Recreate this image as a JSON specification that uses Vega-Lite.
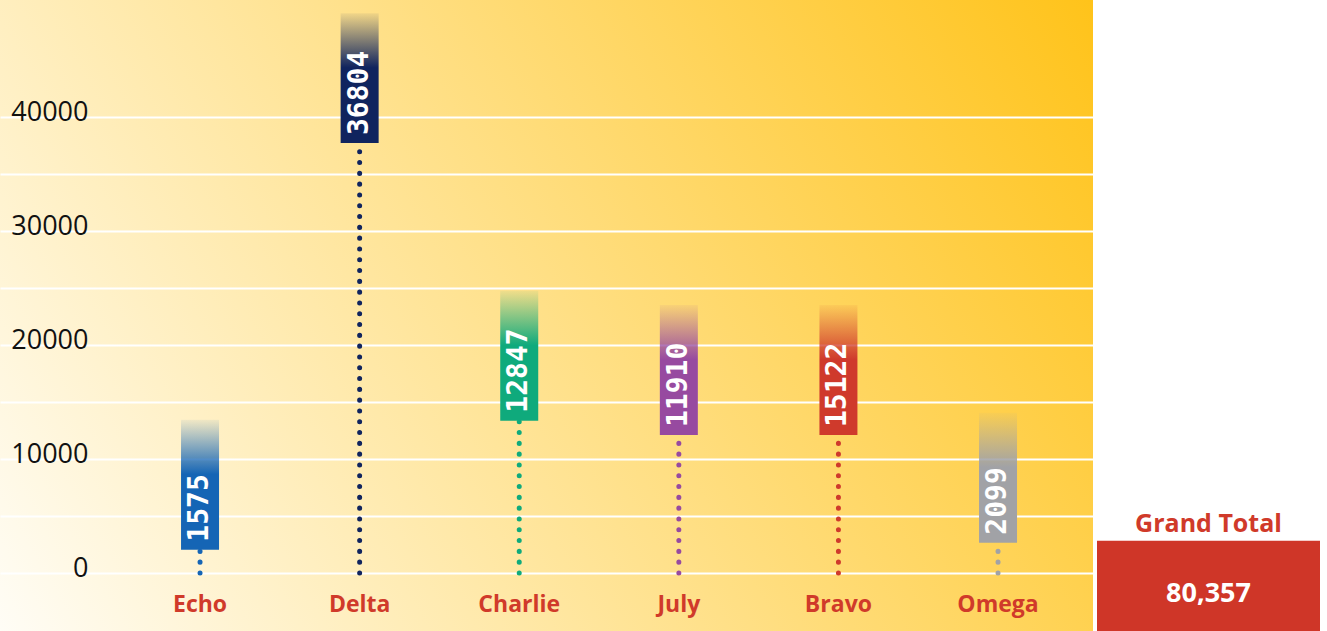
{
  "$schema": "https://vega.github.io/schema/vega-lite/v6.json",
  "padding": 0,
  "spacing": 4,
  "background": "white",
  "config": {"view": {"stroke": null}, "font": "Open Sans", "aria": false},
  "datasets": {
    "items": [
      {"name": "Echo", "value": 1575, "base": 0, "level": 2044, "top": 13450},
      {"name": "Delta", "value": 36804, "base": 0, "level": 37720, "top": 49100},
      {"name": "Charlie", "value": 12847, "base": 0, "level": 13360, "top": 24760},
      {"name": "July", "value": 11910, "base": 0, "level": 12105, "top": 23510},
      {"name": "Bravo", "value": 15122, "base": 0, "level": 12105, "top": 23510},
      {"name": "Omega", "value": 2099, "base": 0, "level": 2660, "top": 14060}
    ],
    "total": [{"label": "Grand Total", "total": 80357}]
  },
  "hconcat": [
    {
      "width": 1093,
      "height": 631,
      "data": {"name": "items"},
      "view": {
        "stroke": null,
        "fill": {
          "gradient": "linear",
          "x1": 0, "y1": 1, "x2": 1.2, "y2": 0.6,
          "stops": [
            {"offset": 0, "color": "#FFFDF6"},
            {"offset": 1, "color": "#FFC31A"}
          ]
        }
      },
      "encoding": {
        "x": {
          "field": "name",
          "type": "nominal",
          "sort": null,
          "scale": {"type": "band", "paddingInner": 0, "paddingOuter": 0.4242, "align": 0.888},
          "axis": {
            "orient": "bottom",
            "offset": -20,
            "labelPadding": 0,
            "labelBaseline": "alphabetic",
            "labelFont": "Open Sans",
            "labelFontWeight": "bold",
            "labelFontSize": 23,
            "labelColor": "#D03A2A",
            "labelAngle": 0,
            "domain": false,
            "ticks": false,
            "title": null
          }
        }
      },
      "layer": [
        {
          "mark": {"type": "rule", "strokeDash": [0.1, 10.7], "strokeCap": "round", "strokeWidth": 5},
          "encoding": {
            "y": {
              "field": "base",
              "type": "quantitative",
              "scale": {"domain": [-5088, 50263], "nice": false, "zero": false},
              "axis": {
                "orient": "left",
                "offset": -93,
                "values": [0, 5000, 10000, 15000, 20000, 25000, 30000, 35000, 40000],
                "format": "d",
                "labelExpr": "datum.value % 10000 === 0 ? datum.label : ''",
                "labelOverlap": false,
                "grid": true,
                "gridColor": "#FFFFFF",
                "gridWidth": 1.8,
                "gridOpacity": 1,
                "domain": false,
                "ticks": false,
                "labelPadding": 5,
                "labelFont": "Open Sans",
                "labelFontSize": 27,
                "labelColor": "#111111",
                "labelBaseline": "middle",
                "labelOffset": -4,
                "title": null
              }
            },
            "y2": {"field": "level"},
            "color": {
              "field": "name",
              "type": "nominal",
              "scale": {
                "domain": ["Echo", "Delta", "Charlie", "July", "Bravo", "Omega"],
                "range": ["#1565B5", "#10245E", "#0FAA7C", "#974AA0", "#CF3A2C", "#A1A2A6"]
              },
              "legend": null
            }
          }
        },
        {
          "mark": {"type": "bar", "width": 38},
          "encoding": {
            "y": {"field": "level", "type": "quantitative", "title": null},
            "y2": {"field": "top"},
            "fill": {
              "condition": [
                {"test": "datum.name === 'Echo'", "value": {"gradient": "linear", "x1": 0, "y1": 1, "x2": 0, "y2": 0, "stops": [{"offset": 0, "color": "rgba(21,101,181,1)"}, {"offset": 0.58, "color": "rgba(21,101,181,1)"}, {"offset": 1, "color": "rgba(21,101,181,0.06)"}]}},
                {"test": "datum.name === 'Delta'", "value": {"gradient": "linear", "x1": 0, "y1": 1, "x2": 0, "y2": 0, "stops": [{"offset": 0, "color": "rgba(16,36,94,1)"}, {"offset": 0.58, "color": "rgba(16,36,94,1)"}, {"offset": 1, "color": "rgba(16,36,94,0.06)"}]}},
                {"test": "datum.name === 'Charlie'", "value": {"gradient": "linear", "x1": 0, "y1": 1, "x2": 0, "y2": 0, "stops": [{"offset": 0, "color": "rgba(15,170,124,1)"}, {"offset": 0.58, "color": "rgba(15,170,124,1)"}, {"offset": 1, "color": "rgba(15,170,124,0.06)"}]}},
                {"test": "datum.name === 'July'", "value": {"gradient": "linear", "x1": 0, "y1": 1, "x2": 0, "y2": 0, "stops": [{"offset": 0, "color": "rgba(151,74,160,1)"}, {"offset": 0.58, "color": "rgba(151,74,160,1)"}, {"offset": 1, "color": "rgba(151,74,160,0.06)"}]}},
                {"test": "datum.name === 'Bravo'", "value": {"gradient": "linear", "x1": 0, "y1": 1, "x2": 0, "y2": 0, "stops": [{"offset": 0, "color": "rgba(207,58,44,1)"}, {"offset": 0.58, "color": "rgba(207,58,44,1)"}, {"offset": 1, "color": "rgba(207,58,44,0.06)"}]}}
              ],
              "value": {"gradient": "linear", "x1": 0, "y1": 1, "x2": 0, "y2": 0, "stops": [{"offset": 0, "color": "rgba(161,162,166,1)"}, {"offset": 0.58, "color": "rgba(161,162,166,1)"}, {"offset": 1, "color": "rgba(161,162,166,0.06)"}]}
            }
          }
        },
        {
          "mark": {"type": "text", "angle": 270, "align": "left", "baseline": "middle", "dx": 8, "font": "DejaVu Sans Mono", "fontWeight": "bold", "fontSize": 28, "fill": "#FFFFFF"},
          "encoding": {
            "y": {"field": "level", "type": "quantitative", "title": null},
            "text": {"field": "value", "type": "quantitative", "format": "d"}
          }
        }
      ]
    },
    {
      "width": 223,
      "height": 631,
      "data": {"name": "total"},
      "view": {"stroke": null},
      "layer": [
        {
          "mark": {"type": "rect", "color": "#CF3628"},
          "encoding": {
            "y": {"datum": 0, "type": "quantitative", "scale": {"domain": [0, 7], "nice": false, "zero": false}, "axis": null},
            "y2": {"datum": 1}
          }
        },
        {
          "mark": {"type": "text", "font": "Open Sans", "fontWeight": "bold", "fontSize": 27, "color": "#FFFFFF", "baseline": "middle", "align": "center"},
          "encoding": {
            "y": {"datum": 0.405, "type": "quantitative"},
            "text": {"field": "total", "type": "quantitative", "format": ",d"}
          }
        },
        {
          "mark": {"type": "text", "font": "Open Sans", "fontWeight": "bold", "fontSize": 25, "color": "#D03A2A", "baseline": "middle", "align": "center"},
          "encoding": {
            "y": {"datum": 1.19, "type": "quantitative"},
            "text": {"field": "label", "type": "nominal"}
          }
        }
      ]
    }
  ]
}
